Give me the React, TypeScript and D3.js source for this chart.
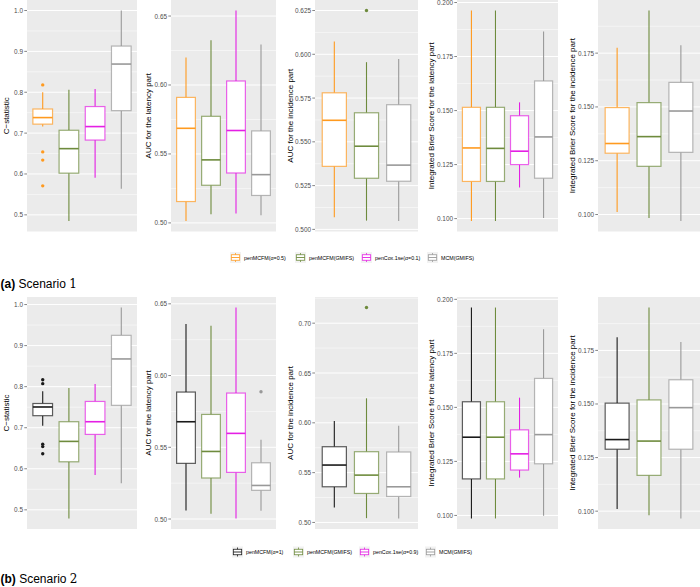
import { useEffect, useRef } from 'react';
import * as d3 from 'd3';

// y-axis titles of the five panels (same in both scenarios)
const metricTitles = [
  'C\u2212statistic',
  'AUC for the latency part',
  'AUC for the incidence part',
  'Integrated Brier Score for the latency part',
  'Integrated Brier Score for the incidence part',
];

const methodsA = ['penMCFM(\u03b1=0.5)', 'penMCFM(GMIFS)', 'penCox.1se(\u03b1=0.1)', 'MCM(GMIFS)'];
const methodsB = ['penMCFM(\u03b1=1)', 'penMCFM(GMIFS)', 'penCox.1se(\u03b1=0.9)', 'MCM(GMIFS)'];
const colorsA = ['#FF9A1F', '#6E8B3D', '#E41FE4', '#999999'];
const colorsB = ['#1A1A1A', '#6E8B3D', '#E41FE4', '#999999'];

// each box: m = method index, s = [lower whisker, q1, median, q3, upper whisker], out = outliers
type Box = { m: number; s: number[]; out?: number[] };

// Scenario 1
const a1: Box[] = [
  { m: 0, s: [0.716, 0.722, 0.738, 0.759, 0.8], out: [0.818, 0.654, 0.634, 0.571] },
  { m: 1, s: [0.485, 0.602, 0.662, 0.707, 0.806] },
  { m: 2, s: [0.591, 0.683, 0.716, 0.765, 0.808] },
  { m: 3, s: [0.564, 0.755, 0.869, 0.913, 1.0] },
];
const a2: Box[] = [
  { m: 0, s: [0.5014, 0.5155, 0.5686, 0.591, 0.62] },
  { m: 1, s: [0.5063, 0.5273, 0.5457, 0.5773, 0.6324] },
  { m: 2, s: [0.5068, 0.5362, 0.567, 0.6029, 0.654] },
  { m: 3, s: [0.5056, 0.5199, 0.535, 0.5667, 0.6293] },
];
const a3: Box[] = [
  { m: 0, s: [0.507, 0.536, 0.5623, 0.578, 0.6073] },
  { m: 1, s: [0.505, 0.5292, 0.5475, 0.5666, 0.5955], out: [0.625] },
  { m: 3, s: [0.5048, 0.5275, 0.5367, 0.5712, 0.5973] },
];
const a4: Box[] = [
  { m: 0, s: [0.0989, 0.1172, 0.1327, 0.1515, 0.1963] },
  { m: 1, s: [0.0989, 0.1172, 0.1325, 0.1515, 0.1963] },
  { m: 2, s: [0.1144, 0.125, 0.1312, 0.1476, 0.1538] },
  { m: 3, s: [0.1003, 0.1187, 0.1378, 0.1637, 0.1866] },
];
const a5: Box[] = [
  { m: 0, s: [0.1012, 0.1285, 0.133, 0.1497, 0.1775] },
  { m: 1, s: [0.0984, 0.1224, 0.1362, 0.152, 0.1948] },
  { m: 3, s: [0.097, 0.1289, 0.1481, 0.1614, 0.1787] },
];

// Scenario 2
const b1: Box[] = [
  { m: 0, s: [0.705, 0.7293, 0.7505, 0.759, 0.7886], out: [0.817, 0.8073, 0.66, 0.654, 0.6366] },
  { m: 1, s: [0.479, 0.617, 0.6667, 0.7146, 0.797] },
  { m: 2, s: [0.585, 0.6837, 0.7146, 0.764, 0.8066] },
  { m: 3, s: [0.565, 0.7545, 0.8675, 0.925, 0.9927] },
];
const b2: Box[] = [
  { m: 0, s: [0.506, 0.5388, 0.5678, 0.5885, 0.6359] },
  { m: 1, s: [0.5037, 0.5286, 0.5471, 0.5729, 0.6347] },
  { m: 2, s: [0.5004, 0.5325, 0.5597, 0.5878, 0.6474] },
  { m: 3, s: [0.5058, 0.52, 0.5234, 0.5392, 0.5553], out: [0.5887] },
];
const b3: Box[] = [
  { m: 0, s: [0.515, 0.5358, 0.5576, 0.576, 0.6018] },
  { m: 1, s: [0.5043, 0.5291, 0.5475, 0.571, 0.6246], out: [0.7157] },
  { m: 3, s: [0.504, 0.5261, 0.5358, 0.5707, 0.5971] },
];
const b4: Box[] = [
  { m: 0, s: [0.0986, 0.1169, 0.1362, 0.1526, 0.1962] },
  { m: 1, s: [0.0986, 0.1169, 0.1362, 0.1526, 0.1962] },
  { m: 2, s: [0.1175, 0.121, 0.1285, 0.1396, 0.1545] },
  { m: 3, s: [0.0999, 0.1239, 0.1374, 0.1634, 0.1862] },
];
const b5: Box[] = [
  { m: 0, s: [0.101, 0.1289, 0.1334, 0.1504, 0.1811] },
  { m: 1, s: [0.0981, 0.1167, 0.1327, 0.1519, 0.195] },
  { m: 3, s: [0.0966, 0.1289, 0.1483, 0.1613, 0.1789] },
];

const ticksA = [
  [0.5, 0.6, 0.7, 0.8, 0.9, 1.0],
  [0.5, 0.55, 0.6, 0.65],
  [0.5, 0.525, 0.55, 0.575, 0.6, 0.625],
  [0.1, 0.125, 0.15, 0.175, 0.2],
  [0.1, 0.125, 0.15, 0.175],
];
const ticksB = [
  [0.5, 0.6, 0.7, 0.8, 0.9, 1.0],
  [0.5, 0.55, 0.6, 0.65],
  [0.5, 0.55, 0.6, 0.65, 0.7],
  [0.1, 0.125, 0.15, 0.175, 0.2],
  [0.1, 0.125, 0.15, 0.175],
];

const scenarios = [
  { panels: [a1, a2, a3, a4, a5], ticks: ticksA, methods: methodsA, colors: colorsA, tag: '(a)', name: 'Scenario ', num: '1' },
  { panels: [b1, b2, b3, b4, b5], ticks: ticksB, methods: methodsB, colors: colorsB, tag: '(b)', name: 'Scenario ', num: '2' },
];

// layout
const W = 700, H = 587;
const colLeft = [27, 171, 315, 457, 598];
const colRight = [137, 276, 418, 558, 700];
const titleOffset = [20.3, 22.5, 25, 25.5, 26];
const rowLayout = [
  { top: 0, bottom: 231.5, legendY: 257.5, legendX: [230, 295, 361, 427], captionY: 288 },
  { top: 297, bottom: 529, legendY: 552, legendX: [232, 293, 359, 425], captionY: 583 },
];
const FONT = '"Liberation Sans", Arial, Helvetica, sans-serif';

// same number of decimals for every label of an axis, like ggplot
function decimalsFor(ticks: number[]) {
  let k = 0;
  ticks.forEach((v) => {
    let d = 0;
    while (d < 6 && Math.abs(Math.round(v * 10 ** d) - v * 10 ** d) > 1e-7) d++;
    k = Math.max(k, d);
  });
  return k;
}

function drawChart(el: SVGSVGElement) {
  const svg = d3.select(el);
  svg.selectAll('*').remove();
  svg.style('font-family', FONT);

  scenarios.forEach((sc, r) => {
    const L = rowLayout[r];

    sc.panels.forEach((boxes, p) => {
      const left = colLeft[p], right = colRight[p];
      const all = boxes.flatMap((b) => [...b.s, ...(b.out || [])]);
      const lo = d3.min(all)!, hi = d3.max(all)!;
      const pad = (hi - lo) * 0.05;
      const y = d3.scaleLinear().domain([lo - pad, hi + pad]).range([L.bottom, L.top]);
      const x = d3.scalePoint<number>().domain(d3.range(boxes.length)).range([left, right]).padding(0.6);
      const bw = x.step() * 0.75;
      const ticks = sc.ticks[p];
      const step = ticks[1] - ticks[0];
      const fmt = d3.format(`.${decimalsFor(ticks)}f`);
      const [d0, d1] = y.domain();

      const g = svg.append('g');
      g.append('rect')
        .attr('x', left).attr('y', L.top)
        .attr('width', right - left).attr('height', L.bottom - L.top)
        .attr('fill', '#EBEBEB');

      const minor = d3.range(ticks.length + 1)
        .map((i) => ticks[0] - step / 2 + i * step)
        .filter((v) => v > d0 && v < d1);
      g.selectAll('.minor').data(minor).enter().append('line')
        .attr('x1', left).attr('x2', right)
        .attr('y1', (d) => y(d)).attr('y2', (d) => y(d))
        .attr('stroke', '#fff').attr('stroke-width', 0.5);
      const major = ticks.filter((v) => v >= d0 && v <= d1);
      g.selectAll('.major').data(major).enter().append('line')
        .attr('x1', left).attr('x2', right)
        .attr('y1', (d) => y(d)).attr('y2', (d) => y(d))
        .attr('stroke', '#fff').attr('stroke-width', 1);

      boxes.forEach((b, i) => {
        const cx = x(i)!;
        const col = sc.colors[b.m];
        const [w0, q1, med, q3, w1] = b.s;
        const bx = g.append('g');
        bx.append('line').attr('x1', cx).attr('x2', cx).attr('y1', y(w0)).attr('y2', y(q1))
          .attr('stroke', col).attr('stroke-width', 1.1);
        bx.append('line').attr('x1', cx).attr('x2', cx).attr('y1', y(q3)).attr('y2', y(w1))
          .attr('stroke', col).attr('stroke-width', 1.1);
        bx.append('rect')
          .attr('x', cx - bw / 2).attr('y', y(q3))
          .attr('width', bw).attr('height', y(q1) - y(q3))
          .attr('fill', '#fff').attr('stroke', col).attr('stroke-opacity', 0.7).attr('stroke-width', 1.2);
        bx.append('line').attr('x1', cx - bw / 2).attr('x2', cx + bw / 2).attr('y1', y(med)).attr('y2', y(med))
          .attr('stroke', col).attr('stroke-width', 1.6);
        bx.selectAll('circle').data(b.out || []).enter().append('circle')
          .attr('cx', cx).attr('cy', (d) => y(d)).attr('r', 1.7).attr('fill', col);
      });

      // y axis
      g.selectAll('.tick').data(major).enter().append('line')
        .attr('x1', left - 2.7).attr('x2', left)
        .attr('y1', (d) => y(d)).attr('y2', (d) => y(d))
        .attr('stroke', '#333').attr('stroke-width', 0.6);
      g.selectAll('.tlab').data(major).enter().append('text')
        .attr('x', left - 4).attr('y', (d) => y(d))
        .attr('text-anchor', 'end').attr('dominant-baseline', 'central')
        .style('font-size', '6.4px').attr('fill', '#4D4D4D')
        .text((d) => fmt(d));

      const ty = (L.top + L.bottom) / 2;
      const tx = left - titleOffset[p];
      g.append('text')
        .attr('transform', `translate(${tx},${ty}) rotate(-90)`)
        .attr('text-anchor', 'middle').attr('dominant-baseline', 'central')
        .style('font-size', '8px').attr('fill', '#000')
        .text(metricTitles[p]);
    });

    // legend
    const ks = 11;
    sc.methods.forEach((name, i) => {
      const kx = L.legendX[i];
      const ky = L.legendY - ks / 2;
      const col = sc.colors[i];
      const lg = svg.append('g');
      lg.append('rect').attr('x', kx).attr('y', ky).attr('width', ks).attr('height', ks).attr('fill', '#F2F2F2');
      const c = kx + ks / 2;
      lg.append('line').attr('x1', c).attr('x2', c).attr('y1', ky + 1).attr('y2', ky + ks - 1)
        .attr('stroke', col).attr('stroke-width', 0.8);
      lg.append('rect').attr('x', kx + 1.3).attr('y', ky + 2.75).attr('width', ks - 2.6).attr('height', ks - 5.5)
        .attr('fill', '#fff').attr('stroke', col).attr('stroke-width', 0.8);
      lg.append('line').attr('x1', kx + 1.3).attr('x2', kx + ks - 1.3).attr('y1', ky + ks / 2).attr('y2', ky + ks / 2)
        .attr('stroke', col).attr('stroke-width', 0.9);
      lg.append('text').attr('x', kx + 14).attr('y', L.legendY)
        .attr('dominant-baseline', 'central')
        .style('font-size', '5.3px').attr('fill', '#000')
        .text(name);
    });

    // caption
    const cap = svg.append('text').attr('x', 0.5).attr('y', L.captionY)
      .style('font-size', '12px').attr('fill', '#000');
    cap.append('tspan').style('font-weight', 'bold').text(sc.tag);
    cap.append('tspan').text(' ' + sc.name);
    cap.append('tspan').style('font-family', '"DejaVu Serif", "Liberation Serif", serif').text(sc.num);
  });
}

export default function App() {
  const ref = useRef<SVGSVGElement>(null);

  useEffect(() => {
    if (!ref.current) return;
    drawChart(ref.current);
  }, []);

  return (
    <svg
      ref={ref}
      width={W}
      height={H}
      viewBox={`0 0 ${W} ${H}`}
      style={{ position: 'absolute', left: 0, top: 0, background: '#fff' }}
    />
  );
}
